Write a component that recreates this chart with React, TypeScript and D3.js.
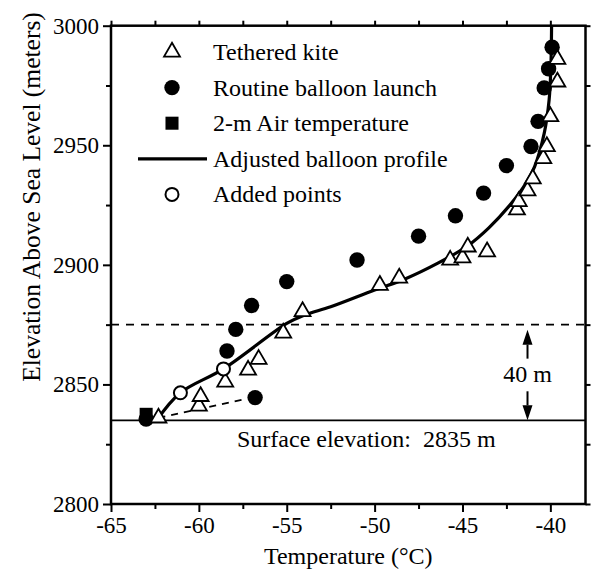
import React, { useEffect, useRef } from "react";
import * as d3 from "d3";

// temperature (°C), elevation (m)
const tetheredKite = [
  [-62.3, 2836], [-60.0, 2841], [-59.9, 2845], [-58.5, 2851], [-57.2, 2856],
  [-56.6, 2860.5], [-55.2, 2871.5], [-54.1, 2880.5], [-49.7, 2891.5], [-48.6, 2894.5],
  [-45.7, 2902], [-45.0, 2903], [-44.7, 2907.5], [-43.6, 2905.5], [-41.9, 2923],
  [-41.8, 2926.5], [-41.3, 2931], [-41.0, 2936], [-40.4, 2944.5], [-40.2, 2949.5],
  [-40.0, 2962], [-39.6, 2976.5], [-39.6, 2986],
];
const routineBalloon = [
  [-63.0, 2835.5], [-56.8, 2844.5], [-58.4, 2864], [-57.9, 2873], [-57.0, 2883],
  [-55.0, 2893], [-51.0, 2902], [-47.5, 2912], [-45.4, 2920.5], [-43.8, 2930],
  [-42.5, 2941.5], [-41.1, 2949.5], [-40.7, 2960], [-40.35, 2974], [-40.1, 2982],
  [-39.9, 2991],
];
const airTemp2m = [[-63.0, 2837.5]];
const addedPoints = [[-61.05, 2846.5], [-58.6, 2856.5]];
const adjustedProfile = [
  [-62.4, 2835], [-61.05, 2846.5], [-58.6, 2856.5], [-55.0, 2875.5], [-54.0, 2879],
  [-52.5, 2882.5], [-50.0, 2889.5], [-48.3, 2894], [-46.4, 2900.7], [-44.7, 2908],
  [-43.5, 2915.5], [-42.3, 2925], [-41.4, 2934], [-40.9, 2941], [-40.35, 2955],
  [-40.07, 2969], [-39.97, 2983], [-39.93, 3000],
];
const kiteSurfaceLine = [[-62.3, 2836], [-57.3, 2844]];

const surfaceElevation = 2835;
const layerTop = 2875;
const arrowTemp = -41.3;

const tempTicks = [-65, -60, -55, -50, -45, -40];
const tempMinor = [-62.5, -57.5, -52.5, -47.5, -42.5];
const elevTicks = [2800, 2850, 2900, 2950, 3000];
const elevMinor = [2825, 2875, 2925, 2975];

const legendItems = [
  "Tethered kite",
  "Routine balloon launch",
  "2-m Air temperature",
  "Adjusted balloon profile",
  "Added points",
];

const FONT = "Liberation Serif";

const App = () => {
  const ref = useRef(null);

  useEffect(() => {
    const width = 593, height = 575;
    const left = 111, right = 585.5, top = 25.7, bottom = 504;
    const svg = d3.select(ref.current).attr("width", width).attr("height", height);
    svg.selectAll("*").remove();

    const x = d3.scaleLinear().domain([-65, -38]).range([left, right]);
    const y = d3.scaleLinear().domain([2800, 3000]).range([bottom, top]);
    const plain = d => String(d); // hyphen minus, like the original

    const styleAxis = (g, size) => {
      g.select(".domain").remove();
      g.selectAll("line").attr("stroke", "#000").attr("stroke-width", 2);
      g.selectAll("text").attr("font-family", FONT).attr("font-size", size).attr("fill", "#000");
    };

    // bottom
    svg.append("g").attr("transform", `translate(0,${bottom})`)
      .call(d3.axisBottom(x).tickValues(tempMinor).tickSize(5).tickFormat(() => ""))
      .call(g => styleAxis(g, 23));
    svg.append("g").attr("transform", `translate(0,${bottom})`)
      .call(d3.axisBottom(x).tickValues(tempTicks).tickSize(8).tickPadding(5).tickFormat(plain))
      .call(g => styleAxis(g, 23));
    // top
    svg.append("g").attr("transform", `translate(0,${top})`)
      .call(d3.axisTop(x).tickValues(tempTicks.concat(tempMinor)).tickSize(5).tickFormat(() => ""))
      .call(g => styleAxis(g, 23));
    // left
    svg.append("g").attr("transform", `translate(${left},0)`)
      .call(d3.axisLeft(y).tickValues(elevMinor).tickSize(5).tickFormat(() => ""))
      .call(g => styleAxis(g, 23));
    svg.append("g").attr("transform", `translate(${left},0)`)
      .call(d3.axisLeft(y).tickValues(elevTicks).tickSize(8).tickPadding(4).tickFormat(plain))
      .call(g => styleAxis(g, 23));
    // right
    svg.append("g").attr("transform", `translate(${right},0)`)
      .call(d3.axisRight(y).tickValues(elevTicks.concat(elevMinor)).tickSize(5).tickFormat(() => ""))
      .call(g => styleAxis(g, 23));

    svg.append("rect")
      .attr("x", left).attr("y", top)
      .attr("width", right - left).attr("height", bottom - top)
      .attr("fill", "none").attr("stroke", "#000").attr("stroke-width", 2.5);

    // axis titles
    svg.append("text")
      .attr("x", (left + right) / 2).attr("y", 564)
      .attr("text-anchor", "middle")
      .attr("font-family", FONT).attr("font-size", 24)
      .text("Temperature (°C)");
    svg.append("text")
      .attr("transform", "translate(40,197) rotate(-90)")
      .attr("text-anchor", "middle")
      .attr("font-family", FONT).attr("font-size", 25.5)
      .text("Elevation Above Sea Level (meters)");

    // reference lines
    svg.append("line")
      .attr("x1", left).attr("x2", right)
      .attr("y1", y(surfaceElevation)).attr("y2", y(surfaceElevation))
      .attr("stroke", "#000").attr("stroke-width", 1.8);
    svg.append("line")
      .attr("x1", left).attr("x2", right)
      .attr("y1", y(layerTop)).attr("y2", y(layerTop))
      .attr("stroke", "#000").attr("stroke-width", 1.8)
      .attr("stroke-dasharray", "8,7");

    svg.append("text")
      .attr("x", 237).attr("y", 447)
      .attr("font-family", FONT).attr("font-size", 24)
      .style("white-space", "pre")
      .text(`Surface elevation:  ${surfaceElevation} m`);

    // 40 m arrows
    const ax = x(arrowTemp);
    const arrow = (tipY, dir) => {
      const baseY = tipY + dir * 15;
      svg.append("path")
        .attr("d", `M${ax},${tipY}L${ax - 5},${baseY}L${ax + 5},${baseY}Z`)
        .attr("fill", "#000");
      svg.append("line")
        .attr("x1", ax).attr("x2", ax)
        .attr("y1", baseY).attr("y2", baseY + dir * 14)
        .attr("stroke", "#000").attr("stroke-width", 2);
    };
    arrow(y(layerTop) + 5, 1);
    arrow(y(surfaceElevation), -1);
    svg.append("text")
      .attr("x", ax).attr("y", 382)
      .attr("text-anchor", "middle")
      .attr("font-family", FONT).attr("font-size", 24)
      .text(`${layerTop - surfaceElevation} m`);

    // dashed fit to kite near surface
    const line = d3.line().x(d => x(d[0])).y(d => y(d[1]));
    svg.append("path")
      .attr("d", line(kiteSurfaceLine))
      .attr("fill", "none").attr("stroke", "#000").attr("stroke-width", 1.8)
      .attr("stroke-dasharray", "7,6");

    // adjusted profile
    svg.append("path")
      .attr("d", line.curve(d3.curveCatmullRom)(adjustedProfile))
      .attr("fill", "none").attr("stroke", "#000").attr("stroke-width", 3.2);

    const tri = d3.symbol().type(d3.symbolTriangle).size(110);
    const sq = d3.symbol().type(d3.symbolSquare).size(170);

    svg.append("g").selectAll("path")
      .data(airTemp2m).enter().append("path")
      .attr("transform", d => `translate(${x(d[0])},${y(d[1])})`)
      .attr("d", sq()).attr("fill", "#000");

    svg.append("g").selectAll("circle")
      .data(routineBalloon).enter().append("circle")
      .attr("cx", d => x(d[0])).attr("cy", d => y(d[1]))
      .attr("r", 7.7).attr("fill", "#000");

    svg.append("g").selectAll("path")
      .data(tetheredKite).enter().append("path")
      .attr("transform", d => `translate(${x(d[0])},${y(d[1])})`)
      .attr("d", tri()).attr("fill", "#fff").attr("stroke", "#000").attr("stroke-width", 1.8);

    svg.append("g").selectAll("circle")
      .data(addedPoints).enter().append("circle")
      .attr("cx", d => x(d[0])).attr("cy", d => y(d[1]))
      .attr("r", 6.5).attr("fill", "#fff").attr("stroke", "#000").attr("stroke-width", 2);

    // legend
    const lx = 172, ly0 = 52, dy = 35.6;
    const lg = svg.append("g");
    legendItems.forEach((label, i) => {
      const cy = ly0 + i * dy;
      if (i === 0) lg.append("path").attr("transform", `translate(${lx},${cy})`).attr("d", tri())
        .attr("fill", "#fff").attr("stroke", "#000").attr("stroke-width", 1.8);
      if (i === 1) lg.append("circle").attr("cx", lx).attr("cy", cy).attr("r", 7.7).attr("fill", "#000");
      if (i === 2) lg.append("path").attr("transform", `translate(${lx},${cy})`).attr("d", sq()).attr("fill", "#000");
      if (i === 3) lg.append("line").attr("x1", 138).attr("x2", 207).attr("y1", cy).attr("y2", cy)
        .attr("stroke", "#000").attr("stroke-width", 3.2);
      if (i === 4) lg.append("circle").attr("cx", lx).attr("cy", cy).attr("r", 6.5)
        .attr("fill", "#fff").attr("stroke", "#000").attr("stroke-width", 2);
      lg.append("text")
        .attr("x", 213).attr("y", cy + 8)
        .attr("font-family", FONT).attr("font-size", 24)
        .text(label);
    });
  }, []);

  return <svg ref={ref} style={{ position: "absolute", left: 0, top: 0, background: "#fff" }}></svg>;
};

export default App;
